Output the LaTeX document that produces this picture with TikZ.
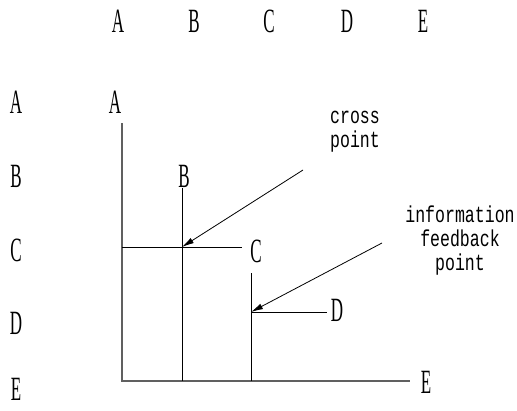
\documentclass[tikz,border=0pt]{standalone}
\usepackage{fontspec}
\newfontfamily\letterfont[FakeStretch=0.5]{Liberation Serif}
\newfontfamily\notefont[FakeStretch=0.72]{Liberation Mono}
\usetikzlibrary{arrows.meta}

\tikzset{
  letter/.style={inner sep=0pt, anchor=base, text depth=0pt, font=\letterfont\fontsize{34}{34}\selectfont},
  note/.style={inner sep=0pt, align=center, font=\notefont\fontsize{23}{24}\selectfont},
  axis/.style={draw=gray!75!black, line width=1.3pt},
  bar/.style={draw=black, line width=0.9pt},
  pointer/.style={draw=black, line width=0.8pt, -{Latex[length=12pt,width=6pt]}}
}

\begin{document}
\begin{tikzpicture}[x=1pt,y=-1pt]
\useasboundingbox (0,0) rectangle (517,410);

\node[letter] (colA) at (118,32) {A};
\node[letter] (colB) at (194,32) {B};
\node[letter] (colC) at (269,32) {C};
\node[letter] (colD) at (347,32) {D};
\node[letter] (colE) at (423,32) {E};

\node[letter] (rowA) at (16,113) {A};
\node[letter] (rowB) at (16,187) {B};
\node[letter] (rowC) at (16,261) {C};
\node[letter] (rowD) at (16,334) {D};
\node[letter] (rowE) at (16,400) {E};

\node[letter] (labA) at (115,113) {A};
\node[letter] (labB) at (184,187) {B};
\node[letter] (labC) at (256,262) {C};
\node[letter] (labD) at (337,321) {D};
\node[letter] (labE) at (426,393) {E};

\coordinate (aTop) at (122,123);
\coordinate (aBot) at (122,381);
\coordinate (eEnd) at (410,381);
\coordinate (bTop) at (182,188);
\coordinate (bBot) at (182,381);
\coordinate (cStart) at (122,247);
\coordinate (cEnd) at (242,247);
\coordinate (cross) at (182,247);
\coordinate (dTop) at (251,273);
\coordinate (dBot) at (251,381);
\coordinate (feedback) at (251,312);
\coordinate (dEnd) at (327,312);
\coordinate (crossTail) at (303,170);
\coordinate (feedTail) at (382,243);

\draw[axis] (aTop) -- (aBot) -- (eEnd);
\draw[bar] (bTop) -- (bBot);
\draw[bar] (cStart) -- (cEnd);
\draw[bar] (dTop) -- (dBot);
\draw[bar] (feedback) -- (dEnd);

\node[note] (crossNote) at (355,132) {cross\\point};
\node[note] (feedNote) at (460,241) {information\\feedback\\point};

\draw[pointer] (crossTail) -- (cross);
\draw[pointer] (feedTail) -- (feedback);
\end{tikzpicture}
\end{document}
